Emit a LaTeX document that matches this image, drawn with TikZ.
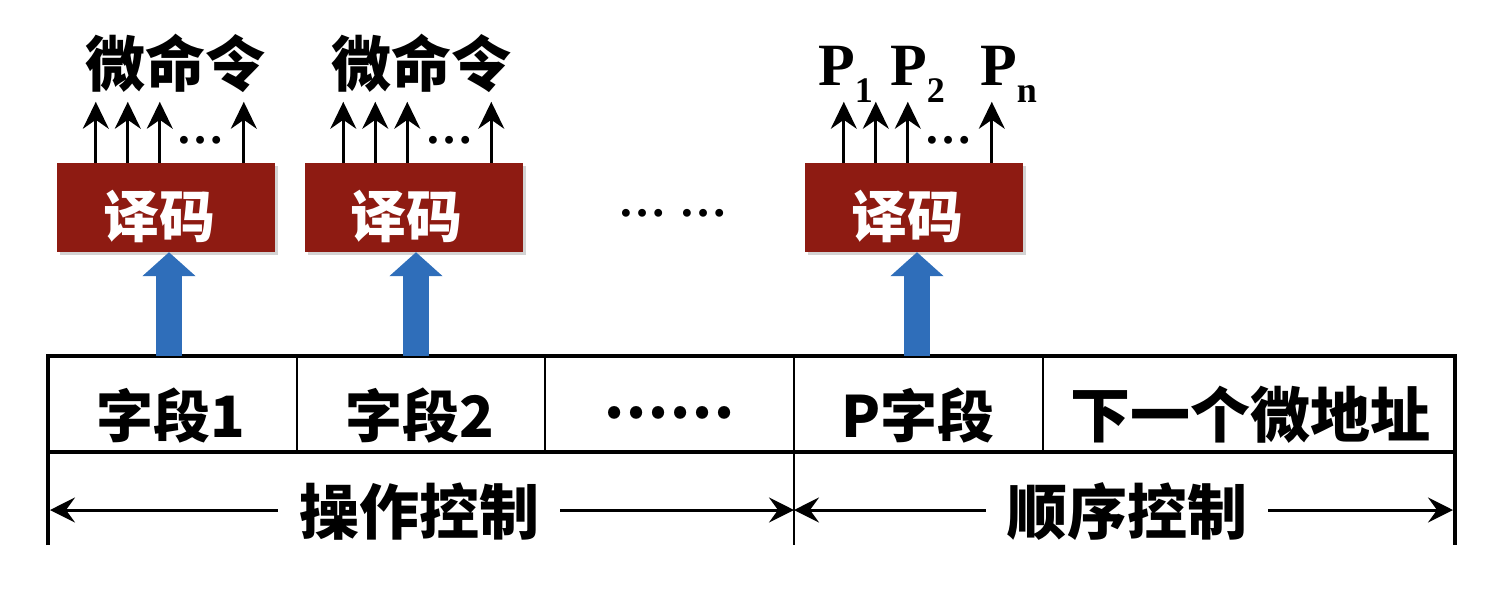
\documentclass[tikz,border=0pt]{standalone}
\usepackage{fontspec}
\setmainfont{Liberation Serif}
\newfontfamily\cjk{Noto Sans CJK SC}
\usetikzlibrary{arrows.meta,shadows}
\definecolor{decred}{HTML}{8E1B12}
\definecolor{bluearr}{HTML}{2F6EBA}
\begin{document}
\begin{tikzpicture}[x=1pt,y=-1pt,
  decoder/.style={fill=decred, minimum width=218pt, minimum height=89pt, inner sep=0pt,
    drop shadow={shadow xshift=3pt,shadow yshift=-3pt,opacity=0.35}},
  dectext/.style={inner sep=0pt, text=white, text height=66pt, text depth=7pt,
    font={\cjk\bfseries\fontsize{56pt}{60pt}\selectfont}},
  celltext/.style={anchor=base, inner sep=0pt, font={\cjk\bfseries\fontsize{57pt}{60pt}\selectfont}},
  toplabel/.style={anchor=base, inner sep=0pt, font={\cjk\bfseries\fontsize{60pt}{64pt}\selectfont}},
  plabel/.style={anchor=base west, inner sep=0pt, font={\bfseries\fontsize{60pt}{64pt}\selectfont}},
  dots/.style={inner sep=0pt, font={\bfseries\fontsize{48pt}{50pt}\selectfont}},
  span/.style={anchor=base, inner xsep=21pt, inner ysep=0pt, font={\cjk\bfseries\fontsize{60pt}{64pt}\selectfont}},
  sig/.style={line width=2.8pt, -{Stealth[length=27pt,width=26pt,inset=9pt]}},
  bigarrow/.style={bluearr, line width=26pt, -{Triangle[length=24pt,width=52pt]}},
  dimarrow/.style={line width=3pt, -{Stealth[length=25pt,width=25pt,inset=9pt]}},
  thickline/.style={line width=4pt},
  thinline/.style={line width=2pt}]
\useasboundingbox (0,0) rectangle (1504,598);

% table lines
\draw[thickline] (48,545) -- (48,356) -- (1455,356) -- (1455,545);
\draw[thickline] (48,452) -- (1455,452);
\draw[thinline] (297,356) -- (297,452);
\draw[thinline] (545,356) -- (545,452);
\draw[thinline] (1043,356) -- (1043,452);
\draw[thinline] (794,356) -- (794,545);

% cell texts
\node[celltext] (f1) at (171,437) {字段1};
\node[celltext] (f2) at (420,437) {字段2};
\node[celltext, font={\cjk\bfseries\fontsize{58pt}{60pt}\selectfont}] (f3) at (669,418) {……};
\node[celltext] (fp) at (918,437) {P字段};
\node[celltext, font={\cjk\bfseries\fontsize{60pt}{64pt}\selectfont}] (fn) at (1250,437) {下一个微地址};

% decoders
\node[decoder] (d1) at (166,207.5) {};
\node[decoder] (d2) at (413.5,207.5) {};
\node[decoder] (d3) at (914,207.5) {};
\node[dectext] (t1) at ([xshift=-7pt]d1.center) {译码};
\node[dectext] (t2) at ([xshift=-7pt]d2.center) {译码};
\node[dectext] (t3) at ([xshift=-7pt]d3.center) {译码};
\node[dots] (mid) at (673,213) {…\hspace{14pt}…};

% blue arrows
\coordinate (a1) at (169,356);
\coordinate (a2) at (416,356);
\coordinate (a3) at (917,356);
\draw[bigarrow] (a1) -- (a1 |- d1.south);
\draw[bigarrow] (a2) -- (a2 |- d2.south);
\draw[bigarrow] (a3) -- (a3 |- d3.south);

% small output arrows
\foreach \d in {d1,d2,d3}{
  \foreach \dx in {39,71,103,187}{
    \draw[sig] ([xshift=\dx pt]\d.north west) -- ++(0,-61);
  }
}
\node[dots] (e1) at (200,140) {…};
\node[dots] (e2) at (449,140) {…};
\node[dots] (e3) at (948,140) {…};

% top labels
\node[toplabel] (m1) at (175,86) {微命令};
\node[toplabel] (m2) at (421,86) {微命令};
\node[plabel] (p1) at (818,85) {P\raisebox{-17pt}{\fontsize{36pt}{36pt}\selectfont 1}};
\node[plabel] (p2) at (890,85) {P\raisebox{-17pt}{\fontsize{36pt}{36pt}\selectfont 2}};
\node[plabel] (pn) at (980,85) {P\raisebox{-17pt}{\fontsize{36pt}{36pt}\selectfont n}};

% span labels
\coordinate (l1) at (50,510);
\coordinate (m0) at (794,510);
\coordinate (r1) at (1453,510);
\node[span] (op) at (419,534) {操作控制};
\node[span] (sq) at (1127,534) {顺序控制};
\draw[dimarrow] (op.west |- l1) -- (l1);
\draw[dimarrow] (op.east |- l1) -- (m0);
\draw[dimarrow] (sq.west |- l1) -- (m0);
\draw[dimarrow] (sq.east |- l1) -- (r1);
\end{tikzpicture}
\end{document}
